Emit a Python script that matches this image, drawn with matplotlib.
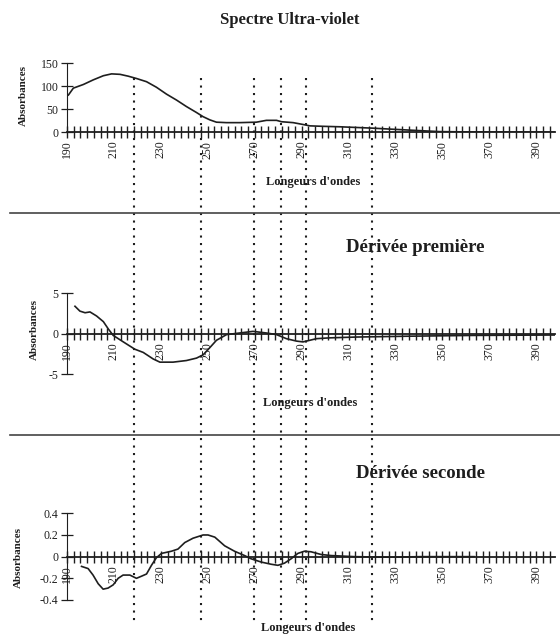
import numpy as np
import matplotlib.pyplot as plt
from matplotlib import transforms
from matplotlib.lines import Line2D
from matplotlib.ticker import FixedLocator, FuncFormatter

plt.rcParams['font.family'] = ['Liberation Serif', 'DejaVu Serif']

# Spectre UV (absorbances)
wl_uv = [190.6, 192.7, 197, 201.2, 205.5, 209, 212.6, 216.1, 219.6, 223.9, 228.1,
         232.4, 236.7, 240.9, 245.2, 248, 250.9, 253.7, 258, 263.6, 270.7, 275,
         279.3, 281.4, 286.4, 290.6, 293.5, 299.1, 306.2, 320.4, 327.5, 338.9,
         348.8, 363, 397.7]
abs_uv = [81, 96, 104, 114, 123, 127, 126, 122, 117, 110, 98,
          83, 70, 56, 43, 34, 27, 22, 21, 21, 22, 26,
          26, 23, 21, 17, 14, 13, 12, 9, 7, 4,
          1.5, 0.7, 0.3]

# Dérivée première
wl_d1 = [193.4, 195.5, 197.7, 199.8, 202.6, 205.5, 207.6, 209.7, 214, 218.9, 222.5,
         226.7, 229.6, 235.2, 240.9, 245.2, 248, 250.9, 253.7, 258, 263.6, 269.3,
         275, 279.3, 283.5, 287.8, 290.6, 293.5, 296.3, 302, 313.3, 334.6, 363, 397.7]
d1 = [3.4, 2.8, 2.6, 2.7, 2.2, 1.5, 0.6, -0.2, -1.0, -1.9, -2.3,
      -3.1, -3.5, -3.5, -3.3, -3.0, -2.6, -1.7, -0.8, -0.1, 0.1, 0.3,
      0.1, -0.1, -0.6, -0.9, -1.0, -0.8, -0.6, -0.5, -0.4, -0.3, -0.2, -0.15]

# Dérivée seconde
wl_d2 = [196.2, 199, 201.1, 203.3, 205.4, 207.5, 209.7, 211.8, 213.9, 216.8, 219.6,
         221.8, 223.9, 226, 228.1, 230.3, 234.5, 237.3, 240.2, 243.7, 248, 250.1,
         253, 257.2, 261.4, 265.7, 268.5, 272.8, 277, 279.9, 282.7, 285.5, 288.4,
         291.2, 294, 298.3, 302.6, 312.5, 326.7, 340.8, 363.5]
d2 = [-0.09, -0.11, -0.17, -0.25, -0.30, -0.29, -0.26, -0.20, -0.17, -0.17, -0.20,
      -0.18, -0.16, -0.08, -0.01, 0.03, 0.05, 0.07, 0.13, 0.17, 0.20, 0.20,
      0.18, 0.10, 0.05, 0.01, -0.02, -0.05, -0.07, -0.08, -0.06, -0.02, 0.03,
      0.05, 0.045, 0.02, 0.01, 0.0, -0.005, 0.0, 0.0]

# longueurs d'onde repérées (pointillés)
wl_marks = [218.5, 247, 269.5, 281, 292, 320]

xticks = list(range(190, 391, 20))
W, H = 560, 635
ink = '#1e1e1e'

fig = plt.figure(figsize=(W / 100, H / 100), dpi=100)


def fx(px):
    return px / W


def fy(py):
    return 1 - py / H


def setup(ax, ylim, yticks, ylab_fmt):
    ax.set_xlim(190, 398)
    ax.set_ylim(*ylim)
    for s in ['top', 'right']:
        ax.spines[s].set_visible(False)
    ax.spines['bottom'].set_position(('data', 0))
    ax.spines['bottom'].set_linewidth(1.3)
    ax.spines['left'].set_linewidth(0.8)
    ax.spines['bottom'].set_color(ink)
    ax.spines['left'].set_color(ink)
    ax.set_xticks(xticks)
    ax.set_xticklabels([str(t) for t in xticks], rotation=90, fontsize=8.5)
    ax.xaxis.set_minor_locator(FixedLocator(np.arange(190, 398, 20 / 7)))
    ax.tick_params(axis='x', which='both', direction='inout', length=8, width=1, colors=ink, pad=2)
    ax.set_yticks(yticks)
    ax.yaxis.set_major_formatter(FuncFormatter(ylab_fmt))
    ax.tick_params(axis='y', direction='inout', length=8, width=0.9, colors=ink, labelsize=8.5, pad=2)
    ax.patch.set_alpha(0)


# panneau 1
ax1 = fig.add_axes([fx(67), fy(132.3), fx(555 - 67), (132.3 - 63.3) / H])
ax1.plot(wl_uv, abs_uv, color=ink, lw=1.2)
setup(ax1, (0, 150), [0, 50, 100, 150], lambda v, p: f'{v:.0f}')

# panneau 2
ax2 = fig.add_axes([fx(67), fy(374.3), fx(555 - 67), (374.3 - 293.3) / H])
ax2.plot(wl_d1, d1, color=ink, lw=1.2)
setup(ax2, (-5, 5), [-5, 0, 5], lambda v, p: f'{v:.0f}')

# panneau 3
ax3 = fig.add_axes([fx(67), fy(600), fx(555 - 67), (600 - 513.3) / H])
ax3.plot(wl_d2, d2, color=ink, lw=1.2)
setup(ax3, (-0.4, 0.4), [-0.4, -0.2, 0, 0.2, 0.4],
      lambda v, p: '0' if abs(v) < 1e-9 else f'{v:.1f}')

# pointillés verticaux
trans = transforms.blended_transform_factory(ax1.transData, fig.transFigure)
for w in wl_marks:
    fig.add_artist(Line2D([w, w], [fy(78), fy(621)], transform=trans,
                          color=ink, lw=1.5, linestyle=(0, (1, 2.6))))

# séparateurs
for py in [213, 435]:
    fig.add_artist(Line2D([fx(10), 1], [fy(py), fy(py)], color='#444444', lw=1.2))

bold = dict(fontweight='bold', color=ink, ha='center', va='center')
fig.text(fx(290), fy(20), 'Spectre Ultra-violet', fontsize=12, **bold)
fig.text(fx(415), fy(247), 'Dérivée première', fontsize=13.5, **bold)
fig.text(fx(420), fy(473), 'Dérivée seconde', fontsize=13.5, **bold)

for px, py in [(313, 182), (310, 403), (308, 628)]:
    fig.text(fx(px), fy(py), "Longeurs d'ondes", fontsize=9, **bold)

for px, py in [(23, 95), (34, 330), (18, 557)]:
    fig.text(fx(px), fy(py), 'Absorbances', fontsize=8, rotation=90, **bold)

fig.savefig('out.png', dpi=100, facecolor='white')
